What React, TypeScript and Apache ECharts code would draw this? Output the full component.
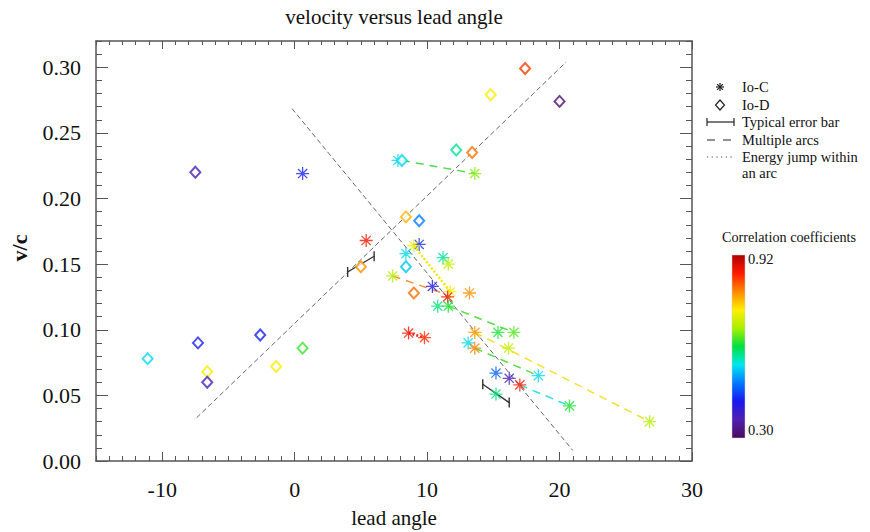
import React, { useEffect, useRef } from 'react';
import * as echarts from 'echarts';

// ---------- data ----------
const xMajorTicks = [-10, 0, 10, 20, 30];
const yMajorTicks = [0, 0.05, 0.1, 0.15, 0.2, 0.25, 0.3];

// Io-C (asterisks): lead angle, v/c, correlation coefficient
const ioCLead = [0.6, 5.4, 7.8, 13.6, 7.4, 9.4, 9.0, 8.4, 11.2, 11.6, 11.75, 11.55, 10.4, 13.2, 10.8, 11.6, 15.35, 16.55, 13.6, 16.15, 13.1, 13.6, 18.4, 15.2, 16.2, 17.0, 20.75, 15.2, 8.6, 9.8, 26.8];
const ioCVel = [0.219, 0.168, 0.229, 0.219, 0.141, 0.165, 0.164, 0.158, 0.155, 0.150, 0.129, 0.125, 0.133, 0.128, 0.118, 0.118, 0.098, 0.098, 0.098, 0.086, 0.090, 0.086, 0.065, 0.067, 0.063, 0.058, 0.042, 0.051, 0.0975, 0.094, 0.030];
const ioCCorr = [0.43, 0.87, 0.54, 0.66, 0.68, 0.44, 0.73, 0.54, 0.58, 0.69, 0.73, 0.87, 0.41, 0.79, 0.59, 0.62, 0.62, 0.64, 0.79, 0.69, 0.54, 0.80, 0.54, 0.47, 0.37, 0.86, 0.62, 0.59, 0.87, 0.85, 0.68];

// Io-D (diamonds)
const ioDLead = [-7.5, -11.1, -7.3, -6.6, -6.6, -2.6, -1.4, 0.6, 5.0, 8.1, 12.2, 13.4, 14.8, 17.4, 20.0, 8.4, 9.4, 8.4, 9.0];
const ioDVel = [0.22, 0.078, 0.090, 0.068, 0.060, 0.096, 0.072, 0.086, 0.148, 0.229, 0.237, 0.235, 0.279, 0.299, 0.274, 0.186, 0.183, 0.148, 0.128];
const ioDCorr = [0.37, 0.54, 0.43, 0.73, 0.37, 0.43, 0.73, 0.63, 0.79, 0.54, 0.58, 0.81, 0.73, 0.84, 0.31, 0.77, 0.49, 0.53, 0.81];

// regression lines
const fitStartX = [-7.4, -0.2];
const fitStartY = [0.033, 0.2685];
const fitEndX = [20.5, 21.0];
const fitEndY = [0.304, 0.008];

// multiple arcs (dashed)
const arcStartX = [8.1, 7.4, 11.6, 13.6, 13.6, 17.0];
const arcStartY = [0.229, 0.141, 0.118, 0.098, 0.086, 0.058];
const arcEndX = [13.6, 11.4, 16.55, 26.8, 18.4, 20.75];
const arcEndY = [0.219, 0.127, 0.098, 0.030, 0.065, 0.042];

// energy jumps (dotted)
const jumpStartX = [9.0, 8.6];
const jumpStartY = [0.164, 0.0975];
const jumpEndX = [11.75, 9.8];
const jumpEndY = [0.129, 0.094];

// typical error bars
const errStartX = [4.0, 14.2];
const errStartY = [0.144, 0.0585];
const errEndX = [6.0, 16.2];
const errEndY = [0.156, 0.0445];

const corrMin = 0.3;
const corrMax = 0.92;

// ---------- styles ----------
const arcColors = ['#4ddc4d', '#ff9040', '#55e040', '#f5e030', '#55e040', '#30e0e0'];
const jumpColors = ['#f5e800', '#ff2020'];
const rainbow = ['#4b0a5e', '#5020b0', '#1818f0', '#0078ff', '#00e8ee', '#00e040', '#a8f000', '#ffee00', '#ff8800', '#ff1a00', '#b00000'];
const FONT = 'Liberation Serif';
const AX = '#555';

const starPath =
  'path://M0 45L100 45L100 55L0 55Z M45 0L55 0L55 100L45 100Z M18.18 11.1L88.9 81.82L81.82 88.9L11.1 18.18Z M88.9 18.18L18.18 88.9L11.1 81.82L81.82 11.1Z';

export default function App() {
  const ref = useRef<HTMLDivElement>(null);
  useEffect(() => {
    const chart = echarts.init(ref.current!, null, { renderer: 'svg' });

    const baseX = { type: 'value', min: -15, max: 30, gridIndex: 0, splitLine: { show: false } };
    const baseY = { type: 'value', min: 0, max: 0.32, gridIndex: 0, splitLine: { show: false } };
    const mainLine = { show: true, onZero: false, lineStyle: { color: AX, width: 1.5 } };
    const noLine = { show: false, onZero: false };

    const xAxes = [
      {
        ...baseX, position: 'bottom', interval: 1,
        axisLine: mainLine,
        axisTick: { inside: true, length: 5, lineStyle: { color: AX } },
        axisLabel: { customValues: xMajorTicks, fontFamily: FONT, fontSize: 22, color: '#111', margin: 17 },
      },
      {
        ...baseX, position: 'bottom',
        axisLine: noLine,
        axisTick: { inside: true, length: 9, customValues: xMajorTicks, lineStyle: { color: AX } },
        axisLabel: { show: false },
      },
      {
        ...baseX, position: 'top', interval: 1,
        axisLine: mainLine,
        axisTick: { inside: true, length: 4, lineStyle: { color: AX } },
        axisLabel: { show: false },
      },
      {
        ...baseX, position: 'top',
        axisLine: noLine,
        axisTick: { inside: true, length: 8, customValues: xMajorTicks, lineStyle: { color: AX } },
        axisLabel: { show: false },
      },
    ];
    const yAxes = [
      {
        ...baseY, position: 'left', interval: 0.01,
        axisLine: mainLine,
        axisTick: { inside: true, length: 6, lineStyle: { color: AX } },
        axisLabel: {
          customValues: yMajorTicks, fontFamily: FONT, fontSize: 22, color: '#111', margin: 15,
          formatter: (v: number) => v.toFixed(2),
        },
      },
      {
        ...baseY, position: 'left',
        axisLine: noLine,
        axisTick: { inside: true, length: 12, customValues: yMajorTicks, lineStyle: { color: AX } },
        axisLabel: { show: false },
      },
      {
        ...baseY, position: 'right', interval: 0.01,
        axisLine: mainLine,
        axisTick: { inside: true, length: 6, lineStyle: { color: AX } },
        axisLabel: { show: false },
      },
      {
        ...baseY, position: 'right',
        axisLine: noLine,
        axisTick: { inside: true, length: 12, customValues: yMajorTicks, lineStyle: { color: AX } },
        axisLabel: { show: false },
      },
    ];

    const series: any[] = [];
    fitStartX.forEach((_, i) => {
      series.push({
        type: 'line', symbol: 'none', silent: true, z: 1,
        data: [[fitStartX[i], fitStartY[i]], [fitEndX[i], fitEndY[i]]],
        lineStyle: { color: '#666', width: 1, type: [5, 3] },
      });
    });
    arcStartX.forEach((_, i) => {
      series.push({
        type: 'line', symbol: 'none', silent: true, z: 2,
        data: [[arcStartX[i], arcStartY[i]], [arcEndX[i], arcEndY[i]]],
        lineStyle: { color: arcColors[i], width: 1.5, type: [8, 6] },
      });
    });
    jumpStartX.forEach((_, i) => {
      series.push({
        type: 'line', symbol: 'none', silent: true, z: 2,
        data: [[jumpStartX[i], jumpStartY[i]], [jumpEndX[i], jumpEndY[i]]],
        lineStyle: { color: jumpColors[i], width: 2.5, type: [2, 2] },
      });
    });
    series.push({
      type: 'custom', z: 3,
      encode: { x: [0, 2], y: [1, 3] },
      data: errStartX.map((_, i) => [errStartX[i], errStartY[i], errEndX[i], errEndY[i]]),
      renderItem: (params: any, api: any) => {
        const p1 = api.coord([api.value(0), api.value(1)]);
        const p2 = api.coord([api.value(2), api.value(3)]);
        const st = { stroke: '#333', lineWidth: 1.4 };
        return {
          type: 'group',
          children: [
            { type: 'line', shape: { x1: p1[0], y1: p1[1], x2: p2[0], y2: p2[1] }, style: st },
            { type: 'line', shape: { x1: p1[0], y1: p1[1] - 5, x2: p1[0], y2: p1[1] + 5 }, style: st },
            { type: 'line', shape: { x1: p2[0], y1: p2[1] - 5, x2: p2[0], y2: p2[1] + 5 }, style: st },
          ],
        };
      },
    });
    const starIdx = series.length;
    series.push({
      type: 'scatter', name: 'Io-C', z: 5,
      symbol: starPath, symbolSize: 13,
      data: ioCLead.map((x, i) => [x, ioCVel[i], ioCCorr[i]]),
    });
    const diaIdx = series.length;
    series.push({
      type: 'scatter', name: 'Io-D', z: 5,
      symbol: 'emptyDiamond', symbolSize: [10, 11],
      itemStyle: { borderWidth: 1.3 },
      data: ioDLead.map((x, i) => [x, ioDVel[i], ioDCorr[i]]),
    });

    const LX = 720;
    const TX = 742;
    const rows = [87, 105, 122, 140, 157, 173];
    const legStroke = { stroke: '#222', lineWidth: 1.2 };
    const legText = (text: string, y: number) => ({
      type: 'text', x: TX, y,
      style: { text, fontFamily: FONT, fontSize: 14.5, fill: '#111', verticalAlign: 'middle' },
    });
    const s = 4;
    const d = 2.9;

    const graphic: any[] = [
      {
        type: 'text', x: 394, y: 17,
        style: { text: 'velocity versus lead angle', fontFamily: FONT, fontSize: 21, fill: '#111', align: 'center', verticalAlign: 'middle' },
      },
      {
        type: 'text', x: 394, y: 518,
        style: { text: 'lead angle', fontFamily: FONT, fontSize: 21, fill: '#111', align: 'center', verticalAlign: 'middle' },
      },
      {
        type: 'text', x: 19, y: 248, rotation: Math.PI / 2,
        style: { text: 'v/c', fontFamily: FONT, fontSize: 22, fontWeight: 'bold', fill: '#111', align: 'center', verticalAlign: 'middle' },
      },
      // legend: Io-C
      { type: 'line', shape: { x1: LX - s, y1: rows[0], x2: LX + s, y2: rows[0] }, style: legStroke },
      { type: 'line', shape: { x1: LX, y1: rows[0] - s, x2: LX, y2: rows[0] + s }, style: legStroke },
      { type: 'line', shape: { x1: LX - d, y1: rows[0] - d, x2: LX + d, y2: rows[0] + d }, style: legStroke },
      { type: 'line', shape: { x1: LX - d, y1: rows[0] + d, x2: LX + d, y2: rows[0] - d }, style: legStroke },
      legText('Io-C', rows[0]),
      // Io-D
      {
        type: 'polygon',
        shape: { points: [[LX, rows[1] - 5], [LX + 4.5, rows[1]], [LX, rows[1] + 5], [LX - 4.5, rows[1]]] },
        style: { fill: '#fff', stroke: '#222', lineWidth: 1.2 },
      },
      legText('Io-D', rows[1]),
      // error bar
      { type: 'line', shape: { x1: 707, y1: rows[2], x2: 734, y2: rows[2] }, style: legStroke },
      { type: 'line', shape: { x1: 707, y1: rows[2] - 4, x2: 707, y2: rows[2] + 4 }, style: legStroke },
      { type: 'line', shape: { x1: 734, y1: rows[2] - 4, x2: 734, y2: rows[2] + 4 }, style: legStroke },
      legText('Typical error bar', rows[2]),
      // dashes
      { type: 'line', shape: { x1: 707, y1: rows[3], x2: 732, y2: rows[3] }, style: { stroke: '#222', lineWidth: 1.2, lineDash: [8, 8] } },
      legText('Multiple arcs', rows[3]),
      // dots
      { type: 'line', shape: { x1: 707, y1: rows[4], x2: 733, y2: rows[4] }, style: { stroke: '#444', lineWidth: 1, lineDash: [1.2, 3.5] } },
      legText('Energy jump within', rows[4]),
      legText('an arc', rows[5]),
      // colour bar
      {
        type: 'text', x: 722, y: 237,
        style: { text: 'Correlation coefficients', fontFamily: FONT, fontSize: 14.2, fill: '#111', verticalAlign: 'middle' },
      },
      {
        type: 'rect', shape: { x: 732, y: 255, width: 13, height: 183 },
        style: {
          fill: new echarts.graphic.LinearGradient(0, 1, 0, 0,
            rainbow.map((c, i) => ({ offset: i / (rainbow.length - 1), color: c }))),
          stroke: '#ccc', lineWidth: 0.5,
        },
      },
      {
        type: 'text', x: 748, y: 259,
        style: { text: corrMax.toFixed(2), fontFamily: FONT, fontSize: 14.5, fill: '#111', verticalAlign: 'middle' },
      },
      {
        type: 'text', x: 748, y: 430,
        style: { text: corrMin.toFixed(2), fontFamily: FONT, fontSize: 14.5, fill: '#111', verticalAlign: 'middle' },
      },
    ];

    chart.setOption({
      animation: false,
      backgroundColor: '#fff',
      grid: { left: 96, right: 178, top: 41, bottom: 71 },
      xAxis: xAxes,
      yAxis: yAxes,
      visualMap: {
        type: 'continuous', show: false, dimension: 2,
        min: corrMin, max: corrMax, seriesIndex: [starIdx, diaIdx],
        inRange: { color: rainbow },
      },
      series,
      graphic,
    });
    return () => chart.dispose();
  }, []);
  return <div ref={ref} style={{ position: 'fixed', left: 0, top: 0, width: 870, height: 532, background: '#fff' }} />;
}
